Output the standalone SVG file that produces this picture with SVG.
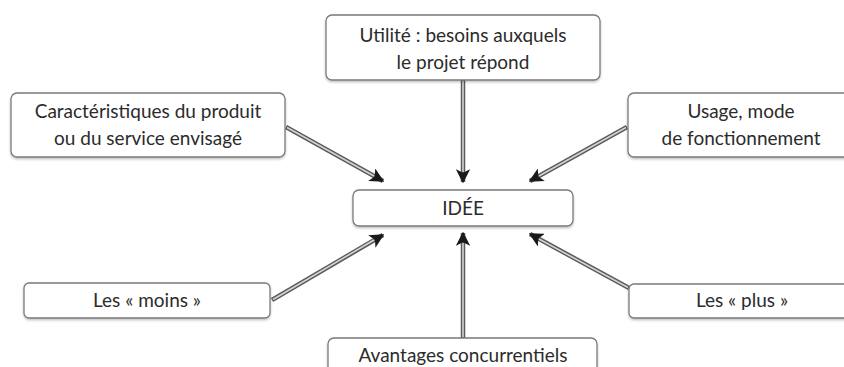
<svg xmlns="http://www.w3.org/2000/svg" width="844" height="367" viewBox="0 0 844 367">
  <style>
    .box { fill: #ffffff; stroke: #7a7a7a; stroke-width: 1.3; }
    .lbl { font-family: Lato, "Liberation Sans", sans-serif; font-size: 19px; fill: #2b2b2b; text-anchor: middle; }
    .shaft { fill: none; stroke: #5a5a5a; stroke-width: 4.5; }
    .core { fill: none; stroke: #d4d4d4; stroke-width: 1.6; }
  </style>
  <defs>
    <marker id="head" viewBox="0 0 10 10" refX="9" refY="5" markerWidth="3.2" markerHeight="3.2" orient="auto" markerUnits="strokeWidth">
      <path d="M0,0 L10,5 L0,10 L2.5,5 Z" fill="#1a1a1a"/>
    </marker>
    <filter id="shadow" x="-5%" y="-10%" width="110%" height="130%">
      <feDropShadow dx="0" dy="1.5" stdDeviation="1" flood-color="#000" flood-opacity="0.25"/>
    </filter>
  </defs>
  <rect width="844" height="367" fill="#ffffff"/>

  <!-- connectors: double-ruled shafts with solid heads -->
  <g id="connectors">
    <line class="shaft" x1="463" y1="80" x2="463" y2="182" marker-end="url(#head)"/>
    <line class="core" x1="463" y1="81" x2="463" y2="172"/>

    <line class="shaft" x1="286" y1="127" x2="383" y2="181" marker-end="url(#head)"/>
    <line class="core" x1="287" y1="127.5" x2="374" y2="176"/>

    <line class="shaft" x1="627" y1="127" x2="530" y2="181" marker-end="url(#head)"/>
    <line class="core" x1="626" y1="127.5" x2="539" y2="176"/>

    <line class="shaft" x1="272" y1="300" x2="383" y2="235" marker-end="url(#head)"/>
    <line class="core" x1="273" y1="299.5" x2="374" y2="240"/>

    <line class="shaft" x1="629" y1="288" x2="530" y2="234" marker-end="url(#head)"/>
    <line class="core" x1="628" y1="287.5" x2="539" y2="239"/>

    <line class="shaft" x1="463" y1="338" x2="463" y2="233" marker-end="url(#head)"/>
    <line class="core" x1="463" y1="337" x2="463" y2="243"/>
  </g>

  <g id="utilite">
    <rect class="box" x="326" y="15" width="274" height="65" rx="6" filter="url(#shadow)"/>
    <text class="lbl" x="463" y="42">Utilité : besoins auxquels</text>
    <text class="lbl" x="463" y="69">le projet répond</text>
  </g>

  <g id="caracteristiques">
    <rect class="box" x="11" y="93" width="274" height="64" rx="6" filter="url(#shadow)"/>
    <text class="lbl" x="148" y="118">Caractéristiques du produit</text>
    <text class="lbl" x="148" y="145">ou du service envisagé</text>
  </g>

  <g id="usage">
    <rect class="box" x="628" y="93" width="228" height="64" rx="6" filter="url(#shadow)"/>
    <text class="lbl" x="741" y="118">Usage, mode</text>
    <text class="lbl" x="741" y="145">de fonctionnement</text>
  </g>

  <g id="idee">
    <rect class="box" x="353" y="190" width="220" height="36" rx="6" filter="url(#shadow)"/>
    <text class="lbl" x="463" y="215">IDÉE</text>
  </g>

  <g id="moins">
    <rect class="box" x="24" y="283" width="246" height="35" rx="5" filter="url(#shadow)"/>
    <text class="lbl" x="147" y="307">Les « moins »</text>
  </g>

  <g id="plus">
    <rect class="box" x="629" y="284" width="228" height="34" rx="5" filter="url(#shadow)"/>
    <text class="lbl" x="742" y="307">Les « plus »</text>
  </g>

  <g id="avantages">
    <rect class="box" x="328" y="338" width="269" height="45" rx="6" filter="url(#shadow)"/>
    <text class="lbl" x="463" y="362">Avantages concurrentiels</text>
  </g>
</svg>
